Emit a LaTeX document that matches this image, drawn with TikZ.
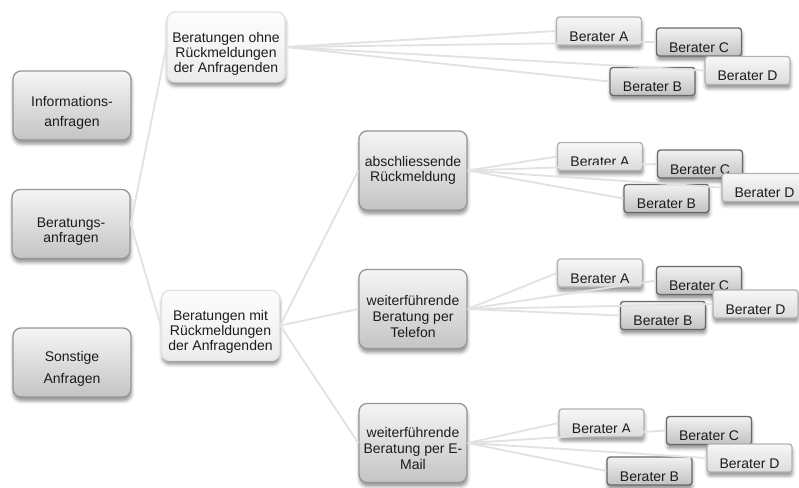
\documentclass[tikz,border=0pt]{standalone}
\usepackage{fontspec}
\setmainfont{Liberation Sans}
\usetikzlibrary{shadows.blur}

\definecolor{catTop}{RGB}{245,245,245}
\definecolor{catBot}{RGB}{196,196,196}
\definecolor{catEdge}{RGB}{150,150,150}
\definecolor{grpTop}{RGB}{253,253,253}
\definecolor{grpBot}{RGB}{236,236,236}
\definecolor{grpEdge}{RGB}{226,226,226}
\definecolor{ltTop}{RGB}{247,247,247}
\definecolor{ltBot}{RGB}{220,220,220}
\definecolor{ltEdge}{RGB}{178,178,178}
\definecolor{dkTop}{RGB}{242,242,242}
\definecolor{dkBot}{RGB}{194,194,194}
\definecolor{dkEdge}{RGB}{104,104,104}
\definecolor{linkCol}{RGB}{226,226,226}
\definecolor{inkCol}{RGB}{28,28,28}

% an invisible strut that pushes the text block down inside its box
\newcommand\lowerby[1]{\rule{0pt}{#1}}

\tikzset{
  softshadow/.style={blur shadow={shadow xshift=0.4pt, shadow yshift=-3pt,
      shadow blur radius=2.5pt, shadow opacity=42}},
  box/.style={align=center, inner sep=0pt, text=inkCol, softshadow},
  category/.style={box, rounded corners=6pt, draw=catEdge, line width=1pt,
      top color=catTop, bottom color=catBot,
      minimum width=88.5pt, minimum height=51.75pt},
  grouping/.style={box, rounded corners=6pt, draw=grpEdge, line width=1pt,
      top color=grpTop, bottom color=grpBot,
      minimum width=88.5pt, minimum height=52.5pt},
  channel/.style={box, rounded corners=6pt, draw=catEdge, line width=1pt,
      top color=catTop, bottom color=catBot,
      minimum width=81pt, minimum height=59.25pt},
  berater/.style={box, rounded corners=2.2pt, line width=1pt,
      minimum width=63.75pt, minimum height=21pt,
      text height=18.3pt, text depth=2.7pt},
  beraterlt/.style={berater, draw=ltEdge, top color=ltTop, bottom color=ltBot},
  beraterdk/.style={berater, draw=dkEdge, top color=dkTop, bottom color=dkBot},
  link/.style={draw=linkCol, line width=1.4pt}
}

\begin{document}
\begin{tikzpicture}[x=0.75pt, y=-0.75pt,
    font=\fontsize{10.5}{11.25}\selectfont]
\useasboundingbox (0,0) rectangle (799,487);

% request categories
\node[category] (info)  at (72,105.5) {\lowerby{18.6pt}Informations-\\[3.75pt]anfragen};
\node[category] (berat) at (71,224)   {\lowerby{19pt}Beratungs-\\anfragen};
\node[category] (sonst) at (72,362.5) {\lowerby{17.5pt}Sonstige\\[5pt]Anfragen};

% consultation kinds
\node[grouping] (ohne) at (226,47)
  {\lowerby{18.6pt}Beratungen ohne\\Rückmeldungen\\der Anfragenden};
\node[grouping] (mit) at (220.5,325.5)
  {\lowerby{16.7pt}Beratungen mit\\Rückmeldungen\\der Anfragenden};

% feedback channels
\node[channel] (absch) at (413,170.5) {abschliessende\\Rückmeldung};
\node[channel] (tel) at (413,309)
  {\lowerby{19pt}weiterführende\\[1pt]Beratung per\\[1pt]Telefon};
\node[channel] (mail) at (413,443)
  {\lowerby{16pt}weiterführende\\[0.5pt]Beratung per E-\\[0.5pt]Mail};

% advisers: without feedback
\node[beraterlt] (o-a) at (599,31)     {Berater A};
\node[beraterdk] (o-c) at (699,42)     {Berater C};
\node[beraterlt] (o-d) at (747.5,70.5) {Berater D};
\node[beraterdk] (o-b) at (652.5,81.5) {Berater B};

% advisers: final feedback
\node[beraterlt] (a-a) at (600,156.5)  {Berater A};
\node[beraterdk] (a-c) at (700,164)    {Berater C};
\node[beraterlt] (a-d) at (764.5,187.5){Berater D};
\node[beraterdk] (a-b) at (666.5,198.5){Berater B};

% advisers: telephone
\node[beraterlt] (t-a) at (600,273)    {Berater A};
\node[beraterdk] (t-c) at (699,280.5)  {Berater C};
\node[beraterlt] (t-d) at (755.5,304)  {Berater D};
\node[beraterdk] (t-b) at (663,315.5)  {Berater B};

% advisers: e-mail
\node[beraterlt] (m-a) at (601.5,423)  {Berater A};
\node[beraterdk] (m-c) at (709,430.5)  {Berater C};
\node[beraterlt] (m-d) at (749.5,458)  {Berater D};
\node[beraterdk] (m-b) at (649.5,471)  {Berater B};

% connectors
\draw[link] (berat.east) -- (ohne.west);
\draw[link] (berat.east) -- (mit.west);
\foreach \ch in {absch,tel,mail}
  \draw[link] (mit.east) -- (\ch.west);
\foreach \src/\p in {ohne/o,absch/a,tel/t,mail/m}
  \foreach \who in {a,b,c,d}
    \draw[link] (\src.east) -- (\p-\who.west);
\end{tikzpicture}
\end{document}
